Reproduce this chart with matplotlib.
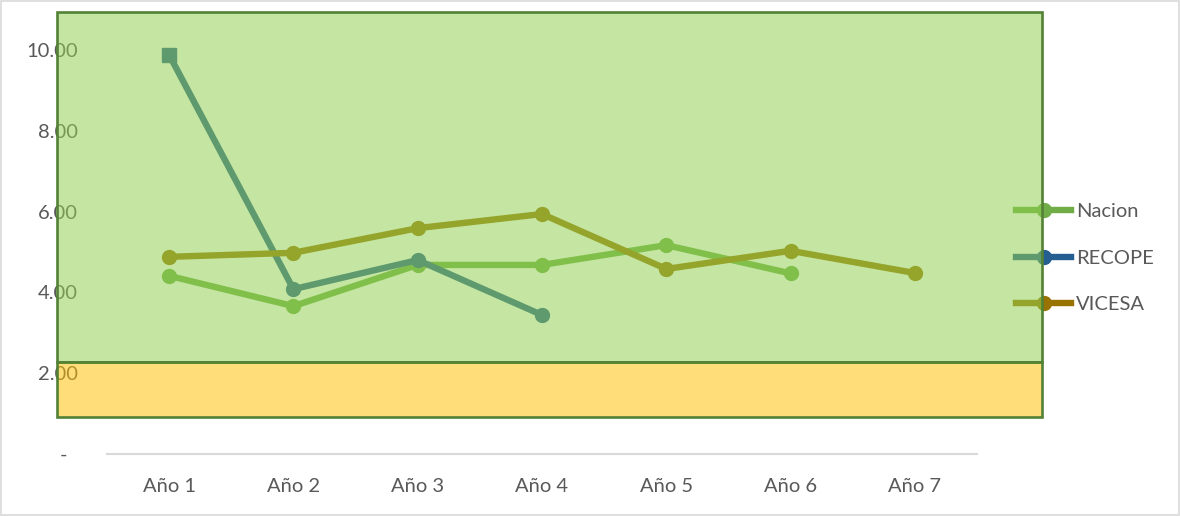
import matplotlib
matplotlib.use("Agg")
import matplotlib.pyplot as plt
from matplotlib.lines import Line2D
from matplotlib.patches import Rectangle

plt.rcParams['font.family'] = ['Lato', 'DejaVu Sans']

categories = ["Año 1", "Año 2", "Año 3", "Año 4", "Año 5", "Año 6", "Año 7"]
nacion = [4.41, 3.66, 4.68, 4.68, 5.17, 4.47, None]
recope = [9.88, 4.08, 4.80, 3.44, None, None, None]
vicesa = [4.88, 4.98, 5.59, 5.94, 4.58, 5.03, 4.48]
yticks = [0, 2, 4, 6, 8, 10]
ytick_labels = ["-  ", "2.00", "4.00", "6.00", "8.00", "10.00"]

W, H = 1180, 516
fig = plt.figure(figsize=(W / 100, H / 100), dpi=100)
ax = fig.add_axes([107 / W, 62 / H, 870 / W, 442 / H])
ax.set_facecolor("none")

x = list(range(len(categories)))

def pts(vals):
    xs = [i for i, v in zip(x, vals) if v is not None]
    ys = [v for v in vals if v is not None]
    return xs, ys

c_nacion, c_recope, c_vicesa = "#70AD47", "#255E91", "#997300"
lw, ms = 4.6, 10
fs = 14.5

xs, ys = pts(nacion)
ax.plot(xs, ys, color=c_nacion, lw=lw, marker="o", ms=ms, solid_capstyle="round")
xs, ys = pts(recope)
ax.plot(xs, ys, color=c_recope, lw=lw, marker="o", ms=ms, markevery=list(range(1, len(xs))),
        solid_capstyle="round")
ax.plot(xs[:1], ys[:1], color=c_recope, marker="s", ms=9.5, lw=0)
xs, ys = pts(vicesa)
ax.plot(xs, ys, color=c_vicesa, lw=lw, marker="o", ms=ms, solid_capstyle="round")

ax.set_xlim(-0.5, len(categories) - 0.5)
ax.set_ylim(0, 442 / 40.4)
ax.set_xticks(x)
ax.set_xticklabels(categories)
ax.set_yticks(yticks)
ax.set_yticklabels(ytick_labels)
ax.tick_params(axis="both", length=0, labelsize=fs, colors="#595959")
ax.tick_params(axis="y", pad=21)
ax.tick_params(axis="x", pad=17)
for s in ["top", "right", "left"]:
    ax.spines[s].set_visible(False)
ax.spines["bottom"].set_color("#D9D9D9")
ax.spines["bottom"].set_linewidth(1.5)

handles = [
    Line2D([], [], color=c_nacion, lw=lw, marker="o", ms=ms),
    Line2D([], [], color=c_recope, lw=lw, marker="o", ms=ms),
    Line2D([], [], color=c_vicesa, lw=lw, marker="o", ms=ms),
]
ax.legend(handles, ["Nacion", "RECOPE", "VICESA"], loc="center left",
          bbox_to_anchor=(1016 / W, 1 - 258 / H), bbox_transform=fig.transFigure,
          frameon=False, fontsize=fs, handlelength=2.75, handletextpad=0.25,
          labelspacing=1.45, borderpad=0, borderaxespad=0, labelcolor="#595959")

def px_rect(x0, y0, x1, y1, **kw):
    return Rectangle((x0 / W, 1 - y1 / H), (x1 - x0) / W, (y1 - y0) / H,
                     transform=fig.transFigure, **kw)

# translucent bands laid over the plot
fig.patches.append(px_rect(57, 12, 1042, 362, facecolor=(0.573, 0.816, 0.314, 0.53),
                           edgecolor="#538135", lw=1.9, zorder=5))
fig.patches.append(px_rect(57, 362, 1042, 417, facecolor=(1.0, 0.753, 0.0, 0.53),
                           edgecolor="#538135", lw=1.9, zorder=5))
# chart border
fig.patches.append(px_rect(1, 1, W - 1, H - 1, facecolor="none", edgecolor="#D9D9D9",
                           lw=1.2, zorder=6))

fig.savefig("out.png", dpi=100)
